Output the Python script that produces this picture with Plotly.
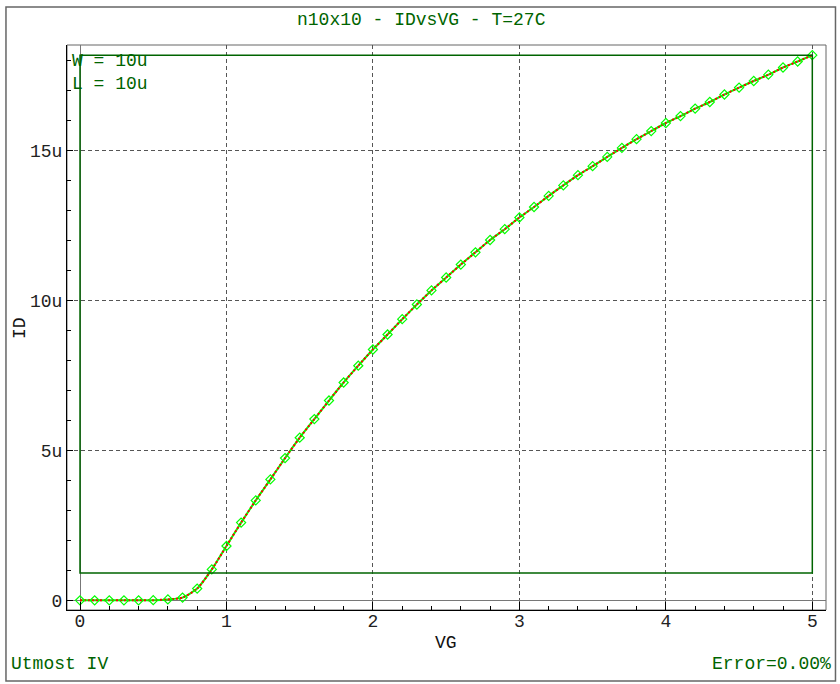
import plotly.graph_objects as go

# ---- data ----
vg = [0.0, 0.1, 0.2, 0.3, 0.4, 0.5, 0.6, 0.7, 0.8, 0.9,
      1.0, 1.1, 1.2, 1.3, 1.4, 1.5, 1.6, 1.7, 1.8, 1.9,
      2.0, 2.1, 2.2, 2.3, 2.4, 2.5, 2.6, 2.7, 2.8, 2.9,
      3.0, 3.1, 3.2, 3.3, 3.4, 3.5, 3.6, 3.7, 3.8, 3.9,
      4.0, 4.1, 4.2, 4.3, 4.4, 4.5, 4.6, 4.7, 4.8, 4.9, 5.0]
# drain current in microamps
id_ua = [0.0, 0.0, 0.0, 0.0, 0.0, 0.005, 0.03, 0.09, 0.39, 1.03,
         1.81, 2.59, 3.33, 4.03, 4.74, 5.42, 6.04, 6.66, 7.26, 7.82,
         8.36, 8.86, 9.37, 9.86, 10.33, 10.76, 11.19, 11.60, 12.01, 12.37,
         12.76, 13.11, 13.48, 13.83, 14.17, 14.47, 14.78, 15.08, 15.37, 15.64,
         15.91, 16.14, 16.39, 16.61, 16.86, 17.09, 17.31, 17.52, 17.76, 17.96, 18.17]

x_ticks = [0, 1, 2, 3, 4, 5]
x_ticktext = ["0", "1", "2", "3", "4", "5"]
y_ticks = [0, 5, 10, 15]
y_ticktext = ["0", "5u", "10u", "15u"]

title_text = "n10x10 - IDvsVG - T=27C"
params_text = ["W = 10u", "L = 10u"]
footer_left = "Utmost IV"
footer_right = "Error=0.00%"

FONT = "Liberation Mono"
DKGREEN = "#006400"
GRID = "#555555"

fig = go.Figure()

# simulated curve (green solid) under measured (red dotted)
fig.add_trace(go.Scatter(x=vg, y=id_ua, mode="lines",
                         line=dict(color="#00ff00", width=2, shape="spline", smoothing=0.6),
                         hoverinfo="skip", showlegend=False))
fig.add_trace(go.Scatter(x=vg, y=id_ua, mode="lines",
                         line=dict(color="#ff0000", width=2, dash="2px,2px", shape="spline", smoothing=0.6),
                         showlegend=False))
fig.add_trace(go.Scatter(x=vg, y=id_ua, mode="markers",
                         marker=dict(symbol="diamond-open", size=7, color="#00ff00",
                                     line=dict(color="#00ff00", width=1.2)),
                         showlegend=False))

# fitting window rectangle (green)
ymax = max(id_ua)
fig.add_shape(type="rect", xref="x", yref="y",
              x0=min(vg), x1=max(vg), y0=0.05 * ymax, y1=ymax,
              line=dict(color=DKGREEN, width=1.5), layer="above")

# plot frame (gray) and outer frame
fig.add_shape(type="rect", xref="paper", yref="paper", x0=0, x1=1, y0=0, y1=1,
              line=dict(color="#666666", width=1), layer="below")
fig.add_shape(type="rect", xref="paper", yref="paper",
              x0=-0.0804, x1=1.0125, y0=-0.1257, y1=1.0673,
              line=dict(color="#666666", width=1.5), layer="below")

ann = []
ann.append(dict(text=title_text, x=0.467, y=1.0442, xanchor="center", yanchor="middle",
                font=dict(family=FONT, size=18, color=DKGREEN)))
ann.append(dict(text=params_text[0], x=0.0066, y=0.9717, xanchor="left", yanchor="middle",
                font=dict(family=FONT, size=18, color=DKGREEN)))
ann.append(dict(text=params_text[1], x=0.0066, y=0.931, xanchor="left", yanchor="middle",
                font=dict(family=FONT, size=18, color=DKGREEN)))
ann.append(dict(text=footer_left, x=-0.0738, y=-0.0956, xanchor="left", yanchor="middle",
                font=dict(family=FONT, size=18, color=DKGREEN)))
ann.append(dict(text=footer_right, x=1.0066, y=-0.0956, xanchor="right", yanchor="middle",
                font=dict(family=FONT, size=18, color=DKGREEN)))
ann.append(dict(text="VG", x=0.4993, y=-0.0584, xanchor="center", yanchor="middle",
                font=dict(family=FONT, size=18, color="#111111")))
ann.append(dict(text="ID", x=-0.0619, y=0.4991, xanchor="center", yanchor="middle",
                textangle=-90, font=dict(family=FONT, size=18, color="#111111")))
for a in ann:
    a.update(xref="paper", yref="paper", showarrow=False, borderpad=0, borderwidth=0)

fig.update_layout(
    width=840, height=684,
    margin=dict(l=67, r=14, t=45, b=74),
    paper_bgcolor="white", plot_bgcolor="white",
    annotations=ann,
    showlegend=False,
    xaxis=dict(range=[-0.0888, 5.0935], tickvals=x_ticks, ticktext=x_ticktext,
               ticks="inside", ticklen=8, tickcolor="black", tickwidth=1,
               ticklabelstandoff=-6,
               showline=True, linecolor="black", linewidth=1,
               showgrid=True, gridcolor=GRID, gridwidth=1, griddash="4px,3px",
               zeroline=True, zerolinecolor="#777777", zerolinewidth=1,
               minor=dict(dtick=0.2, tick0=0, ticks="inside", ticklen=4,
                          tickcolor="black", showgrid=False),
               tickfont=dict(family=FONT, size=18, color="#222222"),
               fixedrange=True),
    yaxis=dict(range=[-0.323, 18.51], tickvals=y_ticks, ticktext=y_ticktext,
               ticks="inside", ticklen=6, tickcolor="black", tickwidth=1,
               showline=True, linecolor="black", linewidth=1,
               showgrid=True, gridcolor=GRID, gridwidth=1, griddash="4px,3px",
               zeroline=True, zerolinecolor="#777777", zerolinewidth=1,
               minor=dict(dtick=1, tick0=0, ticks="inside", ticklen=4,
                          tickcolor="black", showgrid=False),
               tickfont=dict(family=FONT, size=18, color="#222222"),
               fixedrange=True),
)

fig.write_html("out.html", config={"displayModeBar": False},
               post_script="document.body.style.margin='0';document.body.style.padding='0';")
